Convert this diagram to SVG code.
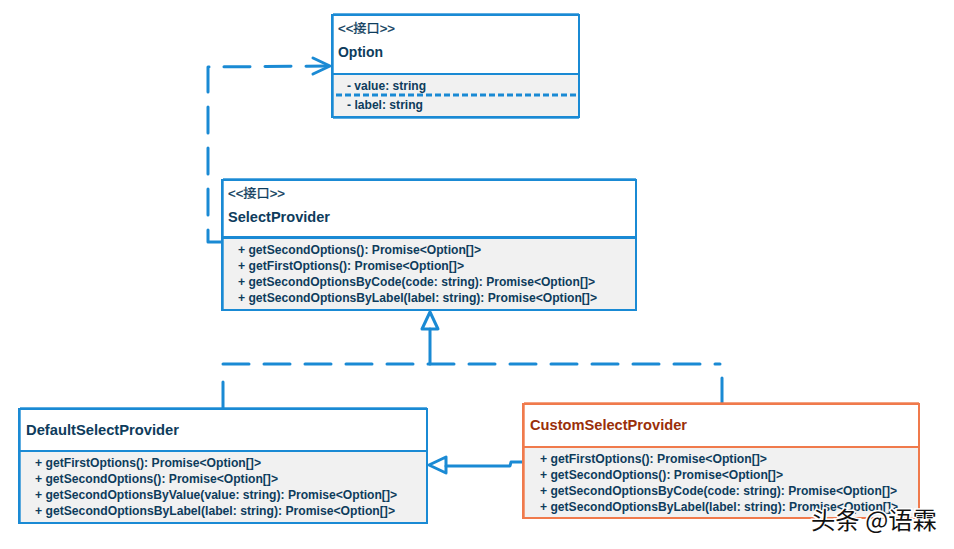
<svg xmlns="http://www.w3.org/2000/svg" width="954" height="549" viewBox="0 0 954 549">
<defs>
<style>
.bg{fill:#ffffff}
.hd{fill:#ffffff;stroke:#1a8ad4;stroke-width:2}
.bd{fill:#f1f1f1;stroke:#1a8ad4;stroke-width:2}
.hdo{fill:#ffffff;stroke:#f07a4c;stroke-width:2}
.bdo{fill:#f1f1f1;stroke:#f07a4c;stroke-width:2}
.sk{fill:none;stroke:#1a8ad4;stroke-width:1;opacity:0.7}
.sko{fill:none;stroke:#f07a4c;stroke-width:1;opacity:0.7}
.t{font-family:"Liberation Sans",Arial,"Noto Sans CJK SC",sans-serif;font-weight:bold;font-size:12.5px;fill:#0e3c5c}
.st{font-family:"Liberation Sans",Arial,"Noto Sans CJK SC",sans-serif;font-size:12.5px;fill:#0e3c5c;stroke:#0e3c5c;stroke-width:0.3}
.ti{font-family:"Liberation Sans",Arial,sans-serif;font-weight:bold;font-size:15px;fill:#0e3c5c}
.tio{font-family:"Liberation Sans",Arial,sans-serif;font-weight:bold;font-size:15px;fill:#9a2f0a}
.c{fill:none;stroke:#1a8ad4;stroke-width:3;stroke-linecap:round;stroke-linejoin:round}
.d{stroke-dasharray:26 15}
.wm{font-family:"Noto Sans CJK SC",sans-serif;font-size:24px;fill:#111;stroke:#fff;stroke-width:3;paint-order:stroke}
</style>
</defs>
<rect class="bg" x="0" y="0" width="954" height="549"/>

<g id="connectors">
  <!-- SelectProvider -> Option (dependency, dashed, open arrow) -->
  <path class="c d" d="M222,242 L208,242 L208,67 L328,66"/>
  <path class="c" d="M313,58 L330,66 L313,74"/>
  <!-- realization to SelectProvider -->
  <path class="c d" d="M223,364 L720,364"/>
  <path class="c" d="M430,329 L430,364"/>
  <path class="c" d="M430,312 L438,329 L422,329 Z" fill="#ffffff"/>
  <path class="c" d="M223,382 L223,408"/>
  <path class="c" d="M722,378 L722,403"/>
  <!-- Custom -> Default (generalization) -->
  <path class="c" d="M523,462 L511,462 L510,466 L446,466"/>
  <path class="c" d="M429,465 L446,457 L446,473 Z" fill="#ffffff"/>
</g>

<g id="node-option">
  <rect class="hd" x="332" y="15" width="247" height="59"/>
  <rect class="bd" x="332" y="74" width="247" height="43"/>
  <rect class="sk" x="333.5" y="13.5" width="245" height="105"/>
  <text class="st" x="338" y="33" textLength="57" lengthAdjust="spacingAndGlyphs">&lt;&lt;接口&gt;&gt;</text>
  <text class="ti" x="338" y="57" textLength="45" lengthAdjust="spacingAndGlyphs">Option</text>
  <text class="t" x="347" y="90" textLength="79" lengthAdjust="spacingAndGlyphs">- value: string</text>
  <path d="M336,95 L576,95" stroke="#1a8ad4" stroke-width="3" stroke-dasharray="6 3"/>
  <text class="t" x="347" y="109" textLength="76" lengthAdjust="spacingAndGlyphs">- label: string</text>
</g>

<g id="node-selectprovider">
  <rect class="hd" x="222" y="180" width="414" height="57"/>
  <rect class="bd" x="222" y="238" width="414" height="72"/>
  <rect class="sk" x="223.5" y="178.5" width="412" height="132"/>
  <text class="st" x="228" y="198" textLength="57" lengthAdjust="spacingAndGlyphs">&lt;&lt;接口&gt;&gt;</text>
  <text class="ti" x="228" y="222" textLength="102" lengthAdjust="spacingAndGlyphs">SelectProvider</text>
  <text class="t" x="238" y="254" textLength="243" lengthAdjust="spacingAndGlyphs">+ getSecondOptions(): Promise&lt;Option[]&gt;</text>
  <text class="t" x="238" y="270" textLength="226" lengthAdjust="spacingAndGlyphs">+ getFirstOptions(): Promise&lt;Option[]&gt;</text>
  <text class="t" x="238" y="286" textLength="357" lengthAdjust="spacingAndGlyphs">+ getSecondOptionsByCode(code: string): Promise&lt;Option[]&gt;</text>
  <text class="t" x="238" y="302" textLength="359" lengthAdjust="spacingAndGlyphs">+ getSecondOptionsByLabel(label: string): Promise&lt;Option[]&gt;</text>
</g>

<g id="node-default">
  <rect class="hd" x="19" y="409" width="408" height="42"/>
  <rect class="bd" x="19" y="451" width="408" height="72"/>
  <rect class="sk" x="20.5" y="407.5" width="406" height="116"/>
  <text class="ti" x="26" y="435" textLength="153" lengthAdjust="spacingAndGlyphs">DefaultSelectProvider</text>
  <text class="t" x="35" y="467" textLength="226" lengthAdjust="spacingAndGlyphs">+ getFirstOptions(): Promise&lt;Option[]&gt;</text>
  <text class="t" x="35" y="483" textLength="243" lengthAdjust="spacingAndGlyphs">+ getSecondOptions(): Promise&lt;Option[]&gt;</text>
  <text class="t" x="35" y="499" textLength="362" lengthAdjust="spacingAndGlyphs">+ getSecondOptionsByValue(value: string): Promise&lt;Option[]&gt;</text>
  <text class="t" x="35" y="515" textLength="360" lengthAdjust="spacingAndGlyphs">+ getSecondOptionsByLabel(label: string): Promise&lt;Option[]&gt;</text>
</g>

<g id="node-custom">
  <rect class="hdo" x="523" y="404" width="396" height="43"/>
  <rect class="bdo" x="523" y="447" width="396" height="71"/>
  <rect class="sko" x="524.5" y="402.5" width="394" height="116"/>
  <text class="tio" x="530" y="430" textLength="157" lengthAdjust="spacingAndGlyphs">CustomSelectProvider</text>
  <text class="t" x="540" y="463" textLength="227" lengthAdjust="spacingAndGlyphs">+ getFirstOptions(): Promise&lt;Option[]&gt;</text>
  <text class="t" x="540" y="479" textLength="243" lengthAdjust="spacingAndGlyphs">+ getSecondOptions(): Promise&lt;Option[]&gt;</text>
  <text class="t" x="540" y="495" textLength="357" lengthAdjust="spacingAndGlyphs">+ getSecondOptionsByCode(code: string): Promise&lt;Option[]&gt;</text>
  <text class="t" x="540" y="511" textLength="358" lengthAdjust="spacingAndGlyphs">+ getSecondOptionsByLabel(label: string): Promise&lt;Option[]&gt;</text>
</g>

<text class="wm" x="811" y="529" textLength="126" lengthAdjust="spacingAndGlyphs">头条 @语霖</text>
</svg>
